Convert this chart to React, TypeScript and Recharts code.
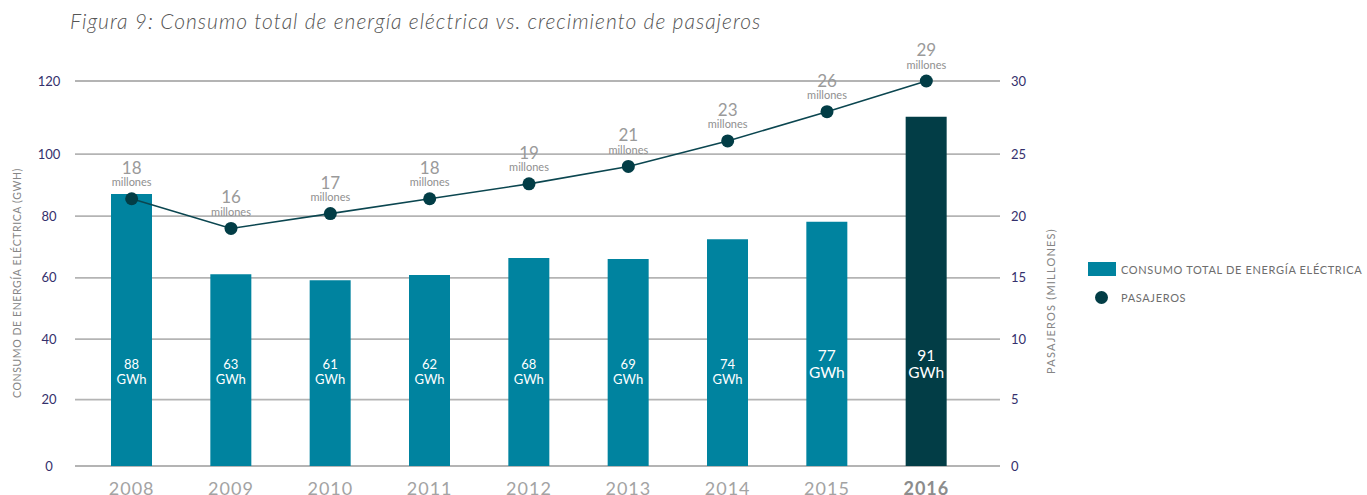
import React from "react";
import {
  ComposedChart,
  Bar,
  Line,
  XAxis,
  YAxis,
  CartesianGrid,
  Cell,
  LabelList,
  Legend,
} from "recharts";

const years = ["2008", "2009", "2010", "2011", "2012", "2013", "2014", "2015", "2016"];
// GWh printed inside each bar
const consumoGWh = [88, 63, 61, 62, 68, 69, 74, 77, 91];
// bar heights as they are drawn against the left axis
const consumoBarHeight = [87.1, 61.2, 59.2, 60.9, 66.4, 66.1, 72.5, 78.2, 110.2];
// passengers printed above each point (millions)
const pasajerosMillones = [18, 16, 17, 18, 19, 21, 23, 26, 29];
// point heights as they are drawn against the right axis
const pasajerosPlotted = [21.4, 19.0, 20.2, 21.4, 22.6, 24.0, 25.9, 27.9, 30];

const leftTicks = [0, 20, 40, 60, 80, 100, 120];
const rightTicks = [0, 5, 10, 15, 20, 25, 30];
// relative gaps between the printed gridlines (the axis is not evenly spaced)
const gridGaps = [66.4, 60.3, 61.3, 61.7, 62, 73];

const HIGHLIGHT_YEAR = "2016";
const BIG_LABEL_YEARS = ["2015", "2016"];

const TEAL = "#00839f";
const DARK = "#023d46";
const LINE = "#0b4650";
const AXIS_NUM = "#34306c";
const FONT = "Lato, 'Open Sans', sans-serif";

if (typeof document !== "undefined") document.body.style.margin = "0";

const data = years.map((year, i) => ({
  year,
  barHeight: consumoBarHeight[i],
  gwh: consumoGWh[i],
  pasajerosPlot: pasajerosPlotted[i],
  pasajeros: pasajerosMillones[i],
}));

// piecewise linear scale so the ticks land where the printed gridlines are
function printedScale(gaps: number[]) {
  const total = gaps.reduce((a, b) => a + b, 0);
  const shares = [0];
  gaps.forEach((g) => shares.push(shares[shares.length - 1] + g / total));
  const n = gaps.length;
  const build = (dom: number[], rng: number[]) => {
    const s: any = (v: any) => {
      const t = ((Number(v) - dom[0]) / (dom[1] - dom[0])) * n;
      const i = Math.max(0, Math.min(n - 1, Math.floor(t)));
      const f = shares[i] + (t - i) * (shares[i + 1] - shares[i]);
      return rng[0] + f * (rng[1] - rng[0]);
    };
    s.domain = (d?: any[]) => {
      if (d === undefined) return dom.slice();
      dom = d.map(Number);
      return s;
    };
    s.range = (r?: any[]) => {
      if (r === undefined) return rng.slice();
      rng = r.map(Number);
      return s;
    };
    s.copy = () => build(dom.slice(), rng.slice());
    s.ticks = () =>
      Array.from({ length: n + 1 }, (_, k) => dom[0] + ((dom[1] - dom[0]) * k) / n);
    return s;
  };
  return build([0, 1], [0, 1]);
}

const leftScale = printedScale(gridGaps);
const rightScale = printedScale(gridGaps);

const LeftTick = ({ x, y, payload }: any) => (
  <text x={x} y={y} dy={4.5} textAnchor="middle" fill={AXIS_NUM} fontSize={13} fontFamily={FONT}>
    {payload.value}
  </text>
);

const RightTick = ({ x, y, payload }: any) => (
  <text x={x} y={y} dy={4.5} textAnchor="start" fill={AXIS_NUM} fontSize={13} fontFamily={FONT}>
    {payload.value}
  </text>
);

const YearTick = ({ x, y, payload }: any) => {
  const hl = payload.value === HIGHLIGHT_YEAR;
  return (
    <text
      x={x}
      y={y}
      dy={29}
      textAnchor="middle"
      fill={hl ? "#8c8c8c" : "#a3a3a3"}
      fontWeight={hl ? 700 : 400}
      fontSize={18}
      letterSpacing={1}
      fontFamily={FONT}
    >
      {payload.value}
    </text>
  );
};

const BarValue = (props: any) => {
  const { x, y, width, height, index, value } = props;
  const big = BIG_LABEL_YEARS.includes(years[index]);
  const cx = x + width / 2;
  const bottom = y + height;
  const size = big ? 15.5 : 13;
  return (
    <g fill="#ffffff" fontFamily={FONT} textAnchor="middle" fontSize={size}>
      <text x={cx} y={bottom - (big ? 105 : 97)}>{value}</text>
      <text x={cx} y={bottom - (big ? 88 : 82)}>GWh</text>
    </g>
  );
};

const PointValue = ({ x, y, value }: any) => (
  <g textAnchor="middle" fontFamily={FONT}>
    <text x={x} y={y - 25} fontSize={17} fill="#9a9a9a">
      {value}
    </text>
    <text x={x} y={y - 12.5} fontSize={11} fill="#8f8f8f">
      millones
    </text>
  </g>
);

const LegendBox = () => (
  <div style={{ fontFamily: FONT, fontSize: 11, color: "#6d6d6d", letterSpacing: 0.65 }}>
    <div style={{ display: "flex", alignItems: "center", height: 14 }}>
      <span style={{ width: 28, height: 14, background: TEAL, marginRight: 5 }} />
      CONSUMO TOTAL DE ENERGÍA ELÉCTRICA
    </div>
    <div style={{ display: "flex", alignItems: "center", marginTop: 15, height: 13 }}>
      <span
        style={{
          width: 13,
          height: 13,
          borderRadius: "50%",
          background: DARK,
          marginLeft: 7,
          marginRight: 13,
        }}
      />
      PASAJEROS
    </div>
  </div>
);

export default function App() {
  return (
    <div style={{ position: "relative", width: 1367, height: 495, background: "#fff" }}>
      <ComposedChart
        width={1367}
        height={495}
        data={data}
        margin={{ top: 81, right: 0, bottom: 0, left: 0 }}
      >
        <CartesianGrid
          yAxisId="left"
          vertical={false}
          stroke="#b4b4b4"
          strokeWidth={1.8}
        />
        <XAxis
          dataKey="year"
          height={29}
          tick={<YearTick />}
          tickLine={false}
          axisLine={false}
          tickSize={0}
          tickMargin={0}
          padding={{ left: 7, right: 24 }}
          interval={0}
        />
        <YAxis
          yAxisId="left"
          width={75}
          type="number"
          domain={[0, 120]}
          ticks={leftTicks}
          scale={leftScale}
          tick={<LeftTick />}
          tickLine={false}
          axisLine={false}
          tickSize={0}
          tickMargin={26}
          interval={0}
        />
        <YAxis
          yAxisId="right"
          orientation="right"
          width={367}
          type="number"
          domain={[0, 30]}
          ticks={rightTicks}
          scale={rightScale}
          tick={<RightTick />}
          tickLine={false}
          axisLine={false}
          tickSize={0}
          tickMargin={11}
          interval={0}
        />
        <Legend
          layout="vertical"
          align="center"
          verticalAlign="middle"
          content={() => <LegendBox />}
          wrapperStyle={{ left: 1088, top: 262, width: 279, height: 44 }}
        />
        <Bar yAxisId="left" dataKey="barHeight" barSize={41} isAnimationActive={false}>
          {data.map((d) => (
            <Cell key={d.year} fill={d.year === HIGHLIGHT_YEAR ? DARK : TEAL} />
          ))}
          <LabelList dataKey="gwh" content={BarValue} />
        </Bar>
        <Line
          yAxisId="right"
          dataKey="pasajerosPlot"
          stroke={LINE}
          strokeWidth={1.6}
          dot={{ r: 6.5, fill: DARK, stroke: DARK, strokeWidth: 0 }}
          activeDot={false}
          isAnimationActive={false}
        >
          <LabelList dataKey="pasajeros" content={PointValue} />
        </Line>
      </ComposedChart>
      <svg
        width={1367}
        height={495}
        style={{ position: "absolute", left: 0, top: 0, pointerEvents: "none" }}
      >
        <text
          x={70}
          y={29}
          fontSize={21}
          fontStyle="italic"
          fontWeight={300}
          letterSpacing={1}
          fill="#555"
          fontFamily={FONT}
        >
          Figura 9: Consumo total de energía eléctrica vs. crecimiento de pasajeros
        </text>
        <text
          x={17}
          y={283}
          transform="rotate(-90 17 283)"
          textAnchor="middle"
          dominantBaseline="central"
          fontSize={10.5}
          letterSpacing={0.6}
          fill="#858585"
          fontFamily={FONT}
        >
          CONSUMO DE ENERGÍA ELÉCTRICA (GWH)
        </text>
        <text
          x={1050}
          y={301}
          transform="rotate(-90 1050 301)"
          textAnchor="middle"
          dominantBaseline="central"
          fontSize={11}
          letterSpacing={1.2}
          fill="#858585"
          fontFamily={FONT}
        >
          PASAJEROS (MILLONES)
        </text>
      </svg>
    </div>
  );
}
